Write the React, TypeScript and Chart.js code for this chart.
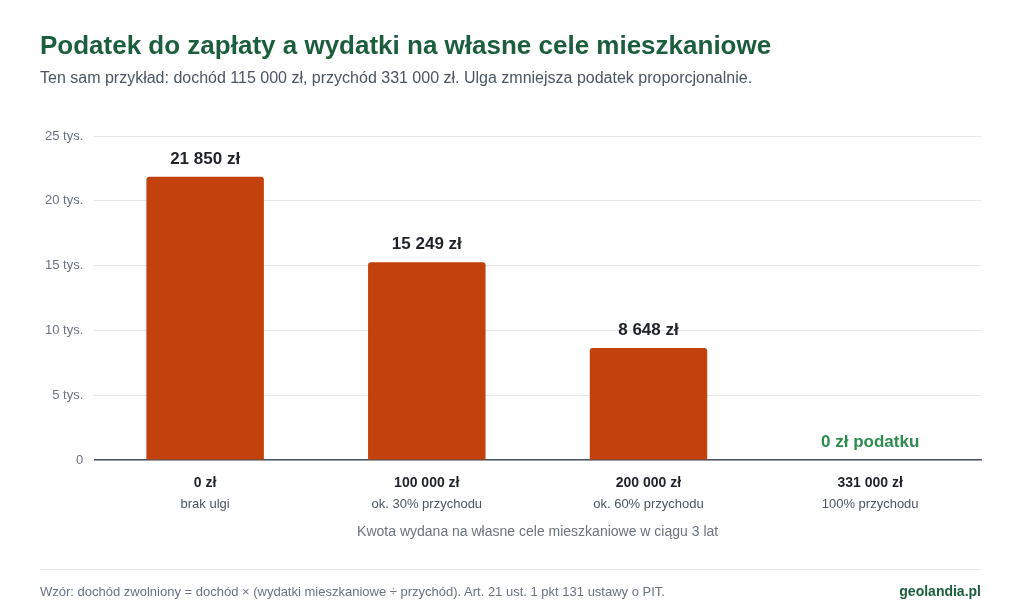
import { useEffect, useRef } from 'react';
import { Chart, registerables, Plugin } from 'chart.js';

Chart.register(...registerables);

const FONT = '"Liberation Sans", Arial, sans-serif';

// amount spent on own housing (x categories)
const spentLabels = ['0 zł', '100 000 zł', '200 000 zł', '331 000 zł'];
const spentNotes = ['brak ulgi', 'ok. 30% przychodu', 'ok. 60% przychodu', '100% przychodu'];
// tax to pay
const taxValues = [21850, 15249, 8648, 0];
const taxLabels = ['21 850 zł', '15 249 zł', '8 648 zł', '0 zł podatku'];
const yTicks = [0, 5000, 10000, 15000, 20000, 25000];

const barColor = '#c2410c';
const darkGreen = '#1b5e3b';
const lightGreen = '#2e8b4f';

const labelsPlugin: Plugin<'bar'> = {
  id: 'customLabels',
  afterDraw(chart) {
    const { ctx, chartArea } = chart;
    const meta = chart.getDatasetMeta(0);
    const x = chart.scales.x;
    ctx.save();
    ctx.textAlign = 'center';
    ctx.textBaseline = 'middle';
    meta.data.forEach((bar: any, i) => {
      const v = taxValues[i];
      if (v === 0) {
        ctx.fillStyle = lightGreen;
        ctx.font = `bold 17px ${FONT}`;
        ctx.fillText(taxLabels[i], bar.x, chartArea.bottom - 18);
      } else {
        ctx.fillStyle = '#1f2328';
        ctx.font = `bold 17px ${FONT}`;
        ctx.fillText(taxLabels[i], bar.x, bar.y - 18);
      }
    });
    spentLabels.forEach((lab, i) => {
      const px = x.getPixelForValue(i);
      ctx.fillStyle = '#1f2328';
      ctx.font = `bold 14px ${FONT}`;
      ctx.fillText(lab, px, chartArea.bottom + 23);
      ctx.fillStyle = '#4b5563';
      ctx.font = `13px ${FONT}`;
      ctx.fillText(spentNotes[i], px, chartArea.bottom + 44);
    });
    ctx.fillStyle = '#6b7280';
    ctx.font = `14px ${FONT}`;
    ctx.fillText(
      'Kwota wydana na własne cele mieszkaniowe w ciągu 3 lat',
      (chartArea.left + chartArea.right) / 2,
      chartArea.bottom + 72
    );
    ctx.restore();
  },
};

const TaxChart = () => {
  const chartRef = useRef<HTMLCanvasElement>(null);
  const chartInstance = useRef<Chart | null>(null);

  useEffect(() => {
    if (!chartRef.current) return;
    const ctx = chartRef.current.getContext('2d');
    if (!ctx) return;

    chartInstance.current = new Chart(ctx, {
      type: 'bar',
      data: {
        labels: spentLabels,
        datasets: [
          {
            data: taxValues,
            backgroundColor: barColor,
            borderRadius: { topLeft: 3, topRight: 3 },
            borderSkipped: 'bottom',
            categoryPercentage: 0.53,
            barPercentage: 1,
          },
        ],
      },
      options: {
        animation: false,
        responsive: true,
        maintainAspectRatio: false,
        layout: { padding: { left: 34, right: 43, top: 136, bottom: 146 } },
        plugins: {
          legend: { display: false },
          tooltip: { enabled: false },
        },
        scales: {
          x: {
            ticks: { display: false },
            grid: { display: false },
            border: { display: true, color: '#4b5563', width: 1.5 },
          },
          y: {
            min: 0,
            max: 25000,
            afterBuildTicks: (axis) => {
              axis.ticks = yTicks.map((value) => ({ value }));
            },
            ticks: {
              padding: 11,
              color: '#6b7280',
              font: { family: FONT, size: 13 },
              callback: (v) => (Number(v) === 0 ? '0' : `${Number(v) / 1000} tys.`),
            },
            grid: { color: '#e7e7e7', drawTicks: false },
            border: { display: false },
          },
        },
      },
      plugins: [labelsPlugin],
    });

    return () => {
      if (chartInstance.current) {
        chartInstance.current.destroy();
      }
    };
  }, []);

  return (
    <div style={{ position: 'absolute', left: 0, top: 0, width: 1024, height: 614 }}>
      <canvas ref={chartRef} />
    </div>
  );
};

const App = () => {
  return (
    <div
      style={{
        position: 'absolute',
        left: 0,
        top: 0,
        width: 1024,
        height: 614,
        background: '#fff',
        fontFamily: FONT,
        overflow: 'hidden',
      }}
    >
      <TaxChart />
      <div style={{ position: 'absolute', left: 40, top: 30, fontSize: 26, fontWeight: 700, color: darkGreen, whiteSpace: 'nowrap' }}>
        Podatek do zapłaty a wydatki na własne cele mieszkaniowe
      </div>
      <div style={{ position: 'absolute', left: 40, top: 69, fontSize: 16, color: '#4b5563', whiteSpace: 'nowrap' }}>
        Ten sam przykład: dochód 115 000 zł, przychód 331 000 zł. Ulga zmniejsza podatek proporcjonalnie.
      </div>
      <div style={{ position: 'absolute', left: 40, width: 941, top: 569, borderTop: '1px solid #e5e5e5' }} />
      <div style={{ position: 'absolute', left: 40, top: 584, fontSize: 13, color: '#6b7280', whiteSpace: 'nowrap' }}>
        Wzór: dochód zwolniony = dochód × (wydatki mieszkaniowe ÷ przychód). Art. 21 ust. 1 pkt 131 ustawy o PIT.
      </div>
      <div style={{ position: 'absolute', right: 43, top: 583, fontSize: 14, fontWeight: 700, color: darkGreen }}>
        geolandia.pl
      </div>
    </div>
  );
};

export default App;
